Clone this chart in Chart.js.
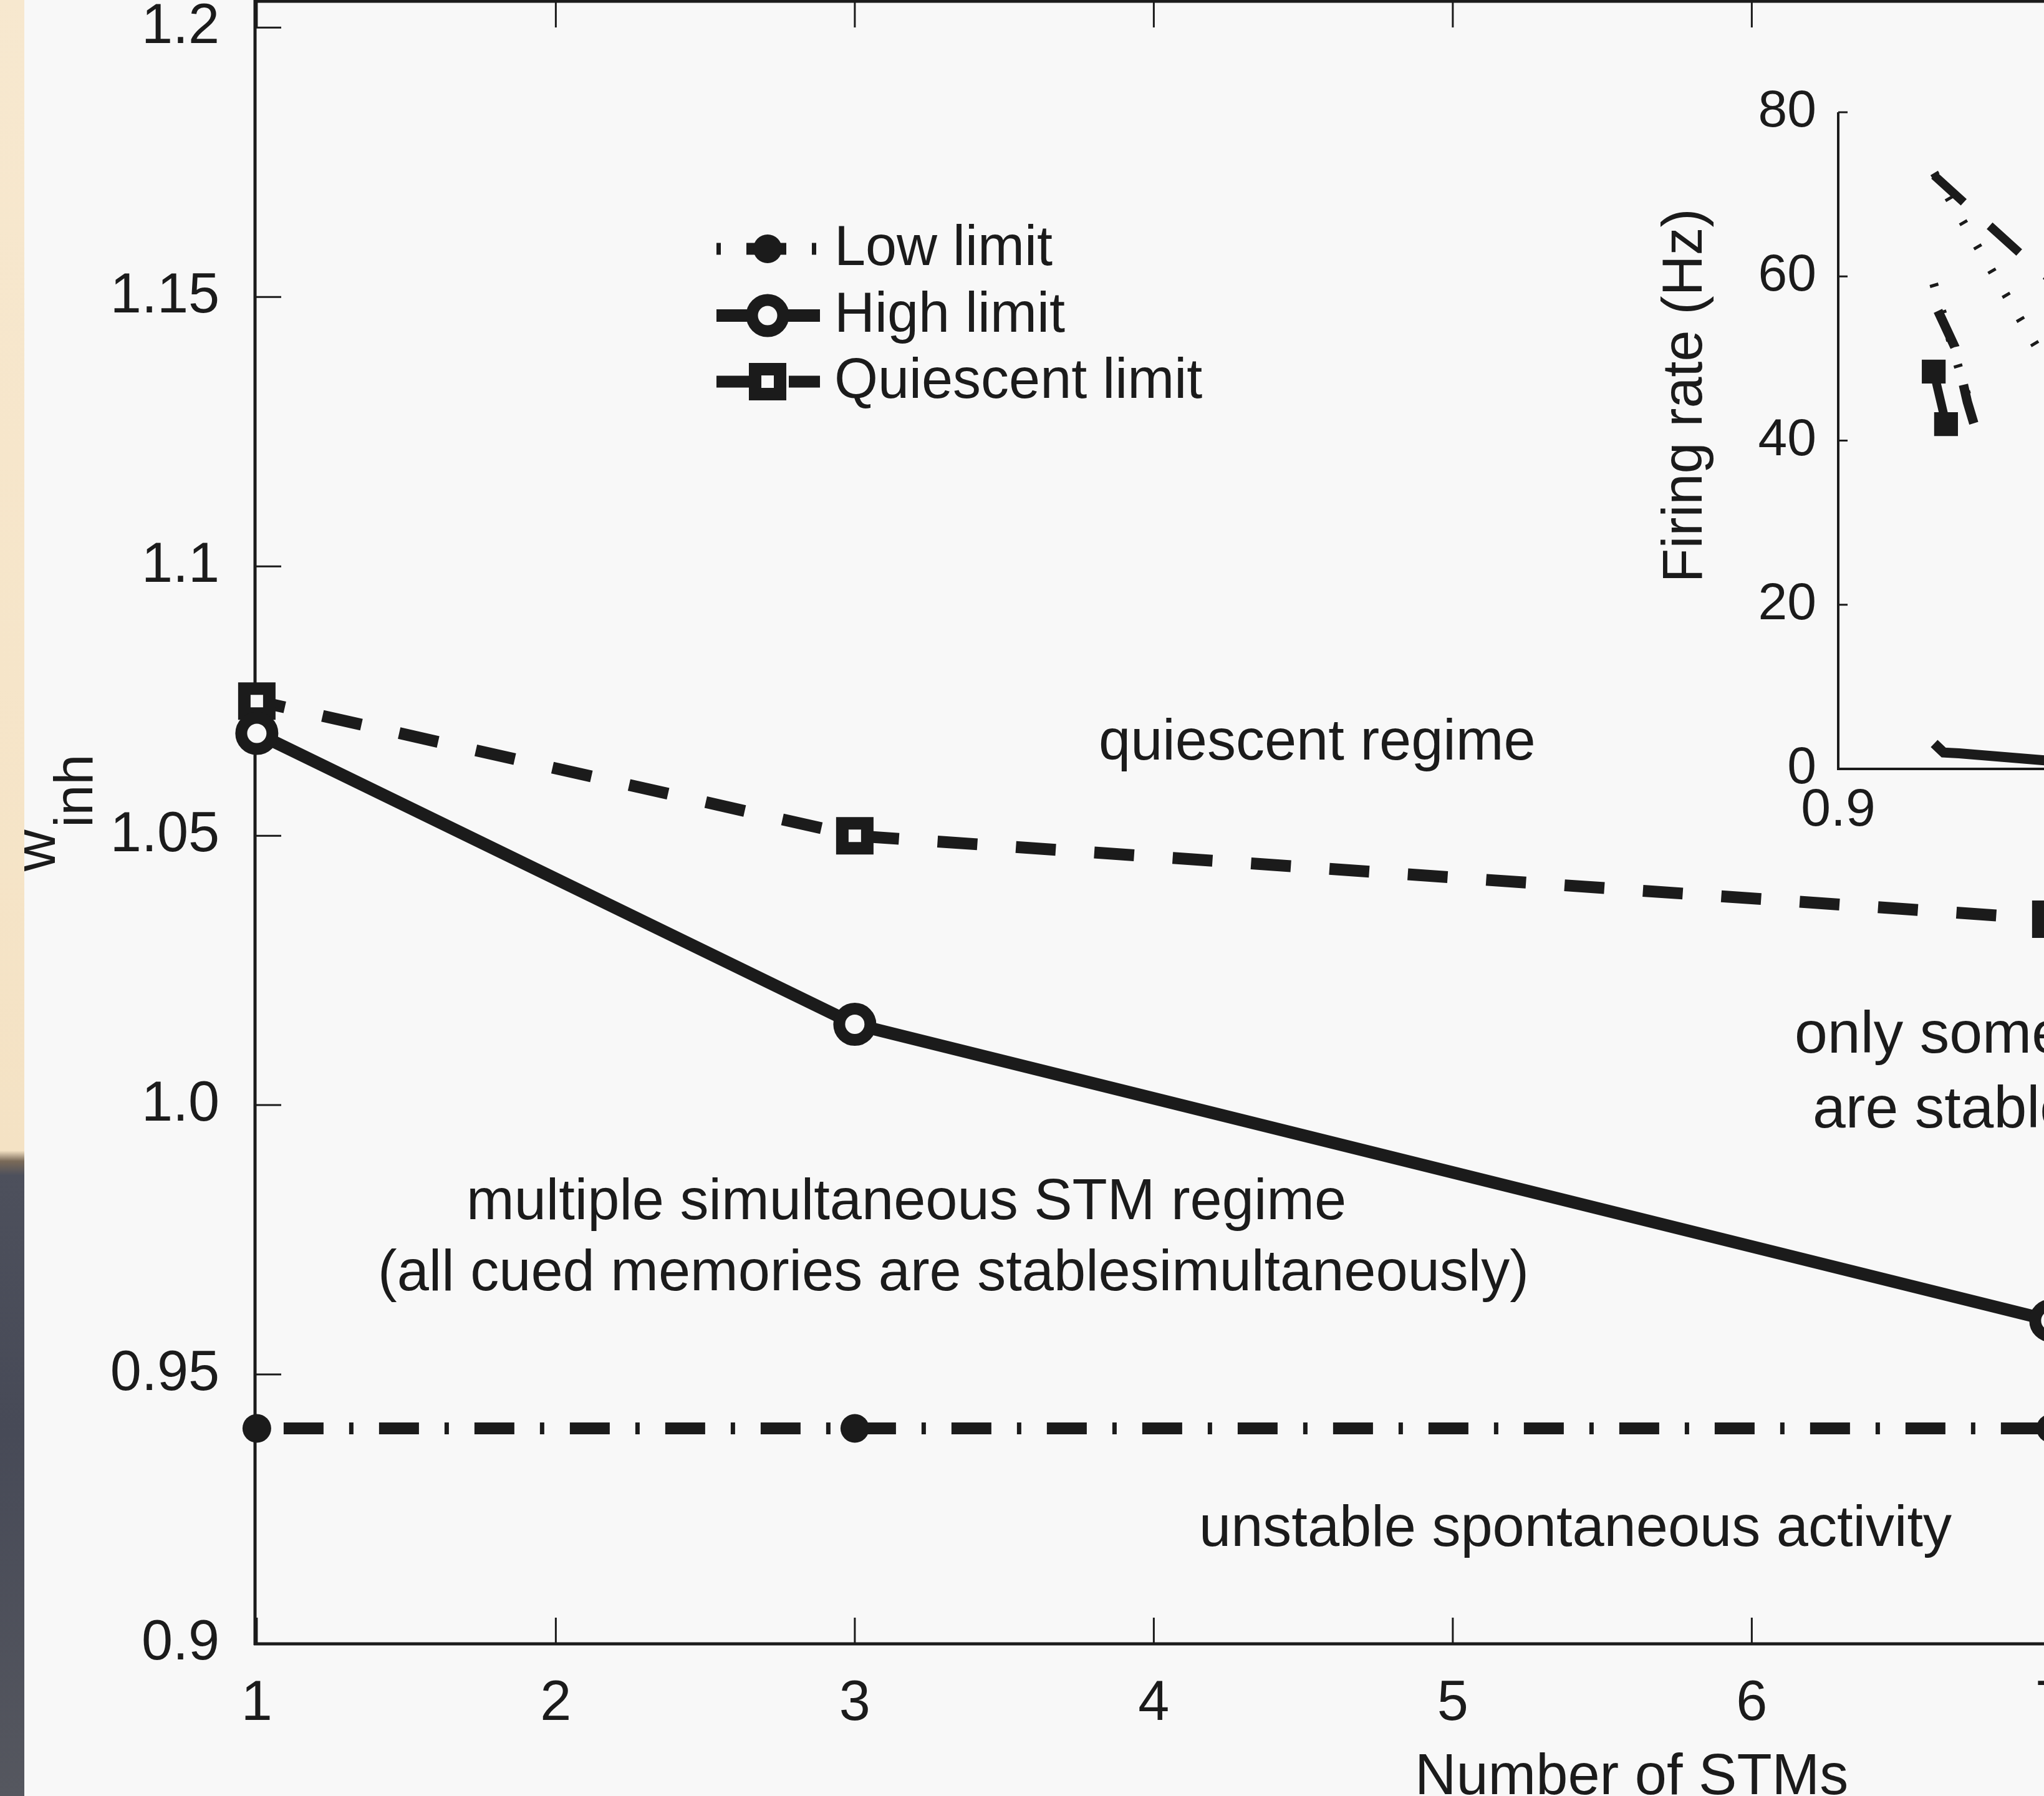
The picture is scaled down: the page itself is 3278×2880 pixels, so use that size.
<!DOCTYPE html>
<html>
<head>
<meta charset="utf-8">
<script src="https://cdn.jsdelivr.net/npm/chart.js@4.4.1/dist/chart.umd.min.js"></script>
<style>
  html, body { margin: 0; padding: 0; width: 3278px; height: 2880px; overflow: hidden; background: #f8f8f8; }
  #main { position: absolute; left: 0; top: 0; }
  #inset { position: absolute; left: 2560px; top: 100px; }
  #strip { position: absolute; left: 0; top: 0; width: 39px; height: 2880px;
    background: linear-gradient(to bottom, #f7e8cf 0px, #f6e5c9 1100px, #f4e2c4 1845px, #7a6a58 1862px, #4d505c 1885px, #474a57 2300px, #55575f 2880px); }
</style>
</head>
<body>
<canvas id="main" width="3800" height="2880" style="width:3800px;height:2880px"></canvas>
<canvas id="inset" width="1148" height="1251" style="width:1148px;height:1251px"></canvas>
<div id="strip"></div>
<script>
// ---------------- data (main panel) ----------------
const nStms          = [1, 3, 7];
const lowLimit       = [0.94, 0.94, 0.94];
const highLimit      = [1.069, 1.015, 0.96];
const quiescentLimit = [1.075, 1.05, 1.0345];
const seriesNames    = ['Low limit', 'High limit', 'Quiescent limit'];

const xTicks      = [1, 2, 3, 4, 5, 6, 7];
const xTickLabels = ['1', '2', '3', '4', '5', '6', '7'];
const yTicks      = [0.9, 0.95, 1.0, 1.05, 1.1, 1.15, 1.2];
const yTickLabels = ['0.9', '0.95', '1.0', '1.05', '1.1', '1.15', '1.2'];

const xAxisTitle = 'Number of STMs';
const yAxisTitleMain = 'w';
const yAxisTitleSub = 'inh';

const regionLabels = [
  'quiescent regime',
  'multiple simultaneous STM regime',
  '(all cued memories are stablesimultaneously)',
  'unstable spontaneous activity',
  'only some cued memories',
  'are stable simultaneously'
];

// ---------------- data (inset: firing rate vs w_inh) ----------------
const insetDashTopX   = [0.9405, 0.9768, 1.0];
const insetDashTopY   = [72.3, 62.8, 57.0];
const insetDotTopX    = [0.9405, 0.9866, 1.0];
const insetDotTopY    = [72.6, 50.0, 44.5];
const insetDotMidX    = [0.9403, 0.9516, 0.957];
const insetDotMidY    = [59.1, 48.1, 43.0];
const insetDashMidX   = [0.9421, 0.9492, 0.9545, 0.9592];
const insetDashMidY   = [55.8, 51.4, 44.7, 40.2];
const insetSquareX    = [0.9403, 0.9455];
const insetSquareY    = [48.4, 42.0];
const insetLowX       = [0.9405, 0.9445, 0.951, 0.987, 1.0];
const insetLowY       = [3.1, 2.0, 1.9, 1.05, 0.8];

const insetXTicks      = [0.9, 1.0, 1.1];
const insetXTickLabels = ['0.9', '1', '1.1'];
const insetYTicks      = [0, 20, 40, 60, 80];
const insetYTickLabels = ['0', '20', '40', '60', '80'];
const insetYTitle      = 'Firing rate (Hz)';

// ---------------- styling ----------------
const INK = '#1b1b1b';
const BG = '#f8f8f8';
const FONT = "'Liberation Sans', Arial, Helvetica, sans-serif";

function pts(xs, ys) { return xs.map((x, i) => ({ x: x, y: ys[i] })); }
function noPad(s) { s.paddingTop = 0; s.paddingBottom = 0; s.paddingLeft = 0; s.paddingRight = 0; }

// ---------------- main chart ----------------
const mainDeco = {
  id: 'mainDeco',
  beforeDatasetsDraw(chart) {
    const { ctx, chartArea: a, scales: { x, y } } = chart;
    ctx.save();
    ctx.strokeStyle = INK;
    ctx.lineCap = 'butt';
    ctx.lineWidth = 3;
    yTicks.forEach(v => {
      const py = y.getPixelForValue(v);
      ctx.beginPath(); ctx.moveTo(a.left, py); ctx.lineTo(a.left + 42, py); ctx.stroke();
      ctx.beginPath(); ctx.moveTo(a.right, py); ctx.lineTo(a.right - 42, py); ctx.stroke();
    });
    xTicks.forEach(v => {
      const px = x.getPixelForValue(v);
      ctx.beginPath(); ctx.moveTo(px, a.bottom); ctx.lineTo(px, a.bottom - 42); ctx.stroke();
      ctx.beginPath(); ctx.moveTo(px, a.top); ctx.lineTo(px, a.top + 42); ctx.stroke();
    });
    ctx.lineWidth = 5;
    ctx.beginPath();
    ctx.moveTo(a.left, a.top); ctx.lineTo(a.right, a.top);
    ctx.moveTo(a.left, a.top - 2); ctx.lineTo(a.left, a.bottom + 2);
    ctx.moveTo(a.left - 2, a.bottom); ctx.lineTo(a.right, a.bottom);
    ctx.moveTo(a.right, a.top); ctx.lineTo(a.right, a.bottom);
    ctx.stroke();
    ctx.restore();
  },
  afterDraw(chart) {
    const { ctx } = chart;
    ctx.save();
    ctx.fillStyle = INK;
    ctx.textBaseline = 'alphabetic';
    ctx.textAlign = 'left';
    ctx.font = '92px ' + FONT;
    ctx.fillText(regionLabels[0], 1762, 1218);
    ctx.fillText(regionLabels[1], 748, 1955);
    ctx.fillText(regionLabels[2], 606, 2069);
    ctx.fillText(regionLabels[3], 1923, 2479);
    ctx.font = '95px ' + FONT;
    ctx.fillText(regionLabels[4], 2878, 1688);
    ctx.fillText(regionLabels[5], 2907, 1808);
    ctx.font = '92px ' + FONT;
    ctx.fillText(xAxisTitle, 2269, 2877);
    ctx.save();
    ctx.translate(88, 1397);
    ctx.rotate(-Math.PI / 2);
    ctx.font = '92px ' + FONT;
    ctx.fillText(yAxisTitleMain, 0, 0);
    ctx.font = '88px ' + FONT;
    ctx.fillText(yAxisTitleSub, 70, 60);
    ctx.restore();

    // legend
    const rowsY = [399, 506, 612];
    const baseY = [425, 532, 638];
    const x0 = 1149, x1 = 1315, mx = 1231;
    chart.data.datasets.forEach((ds, i) => {
      const yy = rowsY[i];
      ctx.save();
      ctx.strokeStyle = ds.borderColor;
      ctx.lineWidth = ds.borderWidth;
      ctx.lineCap = 'butt';
      ctx.setLineDash(ds.borderDash || []);
      ctx.lineDashOffset = ds.legendDashOffset || 0;
      ctx.beginPath(); ctx.moveTo(x0, yy); ctx.lineTo(x1, yy); ctx.stroke();
      ctx.setLineDash([]);
      const r = ds.pointRadius, bw = ds.pointBorderWidth;
      ctx.fillStyle = ds.pointBackgroundColor;
      ctx.strokeStyle = ds.pointBorderColor;
      ctx.lineWidth = bw;
      ctx.beginPath();
      if (ds.pointStyle === 'rect') {
        const h = r * Math.SQRT1_2;
        ctx.rect(mx - h, yy - h, 2 * h, 2 * h);
      } else {
        ctx.arc(mx, yy, r, 0, Math.PI * 2);
      }
      ctx.fill();
      if (bw > 0) ctx.stroke();
      ctx.restore();
      ctx.fillStyle = INK;
      ctx.font = '90px ' + FONT;
      ctx.fillText(seriesNames[i], 1338, baseY[i]);
    });
    ctx.restore();
  }
};

const mainChart = new Chart(document.getElementById('main'), {
  type: 'line',
  data: {
    datasets: [
      {
        label: seriesNames[0],
        data: pts(nStms, lowLimit),
        borderColor: INK, borderWidth: 19,
        borderDash: [64, 41, 7, 41], borderDashOffset: 110, legendDashOffset: 105,
        borderCapStyle: 'butt',
        pointStyle: 'circle', pointRadius: 23, pointBorderWidth: 0,
        pointBackgroundColor: INK, pointBorderColor: INK,
        tension: 0, clip: false
      },
      {
        label: seriesNames[1],
        data: pts(nStms, highLimit),
        borderColor: INK, borderWidth: 20,
        borderCapStyle: 'butt',
        pointStyle: 'circle', pointRadius: 25, pointBorderWidth: 19,
        pointBackgroundColor: BG, pointBorderColor: INK,
        tension: 0, clip: false
      },
      {
        label: seriesNames[2],
        data: pts(nStms, quiescentLimit),
        borderColor: INK, borderWidth: 19,
        borderDash: [64, 62], borderDashOffset: 18, legendDashOffset: 10,
        borderCapStyle: 'butt',
        pointStyle: 'rect', pointRadius: 28.3, pointBorderWidth: 20,
        pointBackgroundColor: BG, pointBorderColor: INK,
        tension: 0, clip: false
      }
    ]
  },
  options: {
    responsive: false,
    animation: false,
    devicePixelRatio: 1,
    layout: { autoPadding: false, padding: { top: 2, left: 0, right: 0, bottom: 0 } },
    plugins: { legend: { display: false }, tooltip: { enabled: false } },
    scales: {
      x: {
        type: 'linear',
        min: 0.994, max: 0.994 + (3800 - 409) / 479.5,
        afterBuildTicks: s => { s.ticks = xTicks.map(v => ({ value: v })); },
        afterFit: s => { s.height = 2880 - 2636; noPad(s); },
        grid: { display: false, drawTicks: false },
        border: { display: false },
        ticks: {
          color: INK, font: { family: FONT, size: 90 }, padding: 43,
          maxRotation: 0, autoSkip: false,
          callback: (v, i) => xTickLabels[i]
        }
      },
      y: {
        type: 'linear',
        min: 0.9, max: 1.2049,
        afterBuildTicks: s => { s.ticks = yTicks.map(v => ({ value: v })); },
        afterFit: s => { s.width = 409; noPad(s); },
        grid: { display: false, drawTicks: false },
        border: { display: false },
        ticks: {
          color: INK, font: { family: FONT, size: 90 }, padding: 57,
          autoSkip: false,
          callback: (v, i) => yTickLabels[i]
        }
      }
    }
  },
  plugins: [mainDeco]
});

// ---------------- inset chart ----------------
const insetDeco = {
  id: 'insetDeco',
  beforeDatasetsDraw(chart) {
    const { ctx, chartArea: a, scales: { x, y } } = chart;
    ctx.save();
    ctx.strokeStyle = INK;
    ctx.lineWidth = 3;
    insetYTicks.forEach(v => {
      const py = y.getPixelForValue(v);
      ctx.beginPath(); ctx.moveTo(a.left, py); ctx.lineTo(a.left + 15, py); ctx.stroke();
    });
    insetXTicks.forEach(v => {
      const px = x.getPixelForValue(v);
      ctx.beginPath(); ctx.moveTo(px, a.bottom); ctx.lineTo(px, a.bottom - 15); ctx.stroke();
    });
    ctx.lineWidth = 4;
    ctx.beginPath();
    ctx.moveTo(a.left, a.top); ctx.lineTo(a.left, a.bottom + 2);
    ctx.moveTo(a.left - 2, a.bottom); ctx.lineTo(a.right, a.bottom);
    ctx.stroke();
    ctx.restore();
  },
  afterDraw(chart) {
    const { ctx } = chart;
    ctx.save();
    ctx.fillStyle = INK;
    ctx.font = '90px ' + FONT;
    ctx.textAlign = 'center';
    ctx.textBaseline = 'alphabetic';
    ctx.translate(169, 534.5);
    ctx.rotate(-Math.PI / 2);
    ctx.fillText(insetYTitle, 0, 0);
    ctx.restore();
  }
};

function insetLine(xs, ys, width, dash, extra) {
  return Object.assign({
    data: pts(xs, ys),
    borderColor: INK, borderWidth: width,
    borderDash: dash, borderCapStyle: 'butt',
    pointRadius: 0, tension: 0, clip: false
  }, extra || {});
}

const insetChart = new Chart(document.getElementById('inset'), {
  type: 'line',
  data: {
    datasets: [
      insetLine(insetDashTopX, insetDashTopY, 14, [64, 56]),
      insetLine(insetDotTopX, insetDotTopY, 14, [5, 40]),
      insetLine(insetDotMidX, insetDotMidY, 14, [5, 40]),
      insetLine(insetDashMidX, insetDashMidY, 15, [64, 62]),
      insetLine(insetSquareX, insetSquareY, 14, [], {
        pointStyle: 'rect', pointRadius: 27, pointBorderWidth: 0,
        pointBackgroundColor: INK, pointBorderColor: INK
      }),
      insetLine(insetLowX, insetLowY, 16, [])
    ]
  },
  options: {
    responsive: false,
    animation: false,
    devicePixelRatio: 1,
    layout: { autoPadding: false, padding: { top: 80, left: 0, right: 0, bottom: 0 } },
    plugins: { legend: { display: false }, tooltip: { enabled: false } },
    scales: {
      x: {
        type: 'linear', min: 0.9, max: 1.1,
        afterBuildTicks: s => { s.ticks = insetXTicks.map(v => ({ value: v })); },
        afterFit: s => { s.height = 118; noPad(s); },
        grid: { display: false, drawTicks: false },
        border: { display: false },
        ticks: {
          color: INK, font: { family: FONT, size: 86 }, padding: 16,
          maxRotation: 0, autoSkip: false,
          callback: (v, i) => insetXTickLabels[i]
        }
      },
      y: {
        type: 'linear', min: 0, max: 80,
        afterBuildTicks: s => { s.ticks = insetYTicks.map(v => ({ value: v })); },
        afterFit: s => { s.width = 388; noPad(s); },
        grid: { display: false, drawTicks: false },
        border: { display: false },
        ticks: {
          color: INK, font: { family: FONT, size: 84 }, padding: 35,
          autoSkip: false,
          callback: (v, i) => insetYTickLabels[i]
        }
      }
    }
  },
  plugins: [insetDeco]
});
</script>
</body>
</html>
